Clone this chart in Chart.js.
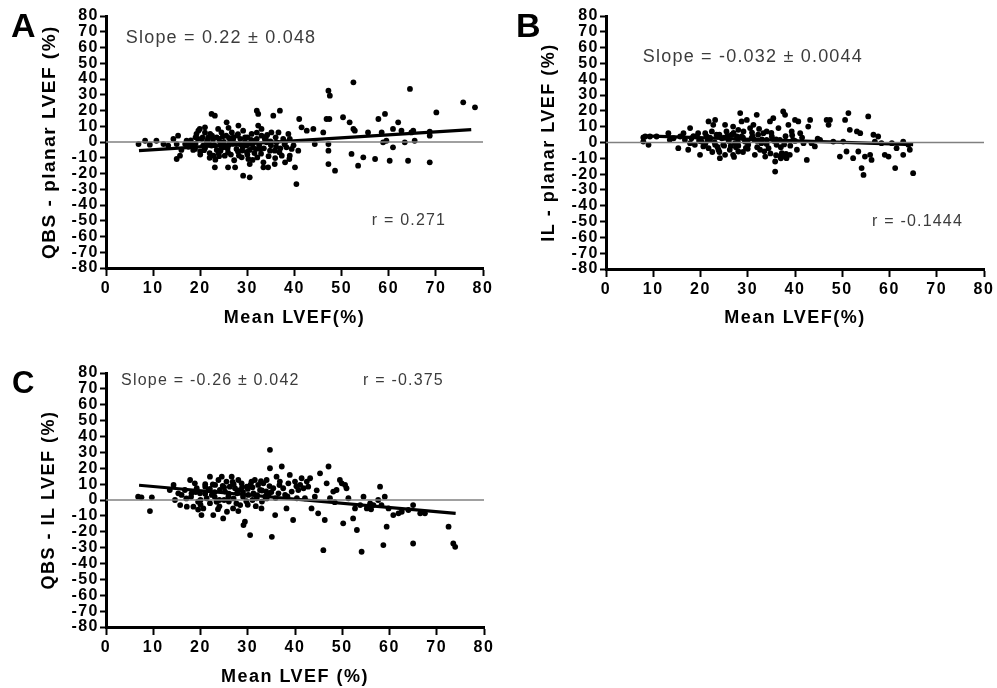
<!DOCTYPE html>
<html>
<head>
<meta charset="utf-8">
<script src="https://cdn.jsdelivr.net/npm/chart.js@4.4.1/dist/chart.umd.min.js"></script>
<style>
  html, body { margin: 0; padding: 0; background: #fff; }
  body { width: 997px; height: 688px; position: relative; overflow: hidden; }
  .panel { position: absolute; }
</style>
</head>
<body>
<div class="panel" style="left:0;top:0;width:500px;height:330px"><canvas id="chartA"></canvas></div>
<div class="panel" style="left:500px;top:0;width:497px;height:330px"><canvas id="chartB"></canvas></div>
<div class="panel" style="left:0;top:340px;width:500px;height:348px"><canvas id="chartC"></canvas></div>
<script>
// axis ticks (same for all panels)
const xTicks = [0, 10, 20, 30, 40, 50, 60, 70, 80];
const yTicks = [-80, -70, -60, -50, -40, -30, -20, -10, 0, 10, 20, 30, 40, 50, 60, 70, 80];

// zero reference line
const zeroX = [0, 80];
const zeroY = [0, 0];

// A: QBS - planar, [mean LVEF, difference]
const pointsA = [
  [6.9,-1.3],[8.3,0.8],[9.3,-1.7],[10.7,0.8],[12.2,-1.3],[13.2,-2.3],[14.3,1.9],[15.0,-1.3],[15.3,4.0],[15.0,-10.8],
  [15.7,-8.7],[16.8,-1.3],[17.1,0.8],[17.8,-0.2],[18.2,-2.3],[18.9,-4.4],[19.2,5.1],[19.6,7.2],[19.9,8.3],[20.3,1.9],
  [20.6,-2.3],[21.0,9.3],[21.4,-0.2],[21.7,3.0],[22.1,5.1],[22.4,-2.3],[22.8,-8.7],[23.1,-16.1],[22.4,17.8],[23.1,16.7],
  [23.5,3.0],[23.8,8.3],[24.2,-0.2],[24.5,6.1],[24.9,-3.4],[25.2,-8.7],[25.6,12.5],[25.9,-6.6],[25.9,-16.1],[26.3,-0.2],
  [26.7,6.1],[27.0,1.9],[27.4,-16.1],[27.7,-4.4],[28.1,10.4],[28.4,-1.3],[28.8,-9.7],[29.1,-21.4],[29.1,7.2],[29.5,3.0],
  [29.8,-2.3],[30.2,-10.8],[30.5,-14.0],[30.5,-22.4],[30.9,5.1],[31.2,-3.4],[31.6,0.8],[32.0,19.9],[32.3,17.8],[32.3,10.4],
  [32.7,-4.4],[33.0,8.3],[33.4,-12.9],[33.4,-16.1],[33.7,1.9],[34.1,-0.2],[34.4,-16.1],[34.8,-5.5],[35.1,6.1],[35.5,16.7],
  [35.8,-14.0],[35.8,-5.5],[36.2,-0.2],[36.6,6.1],[36.9,19.9],[37.3,-8.7],[37.6,1.9],[38.0,-12.9],[38.3,-3.4],[38.7,5.1],
  [39.0,-8.7],[39.4,-4.4],[40.1,-16.1],[40.4,-26.7],[40.8,-5.5],[41.0,14.6],[41.5,9.3],[42.6,7.2],[44.0,8.3],[44.3,-1.3],
  [46.1,6.1],[46.8,14.6],[47.2,32.6],[47.5,29.4],[47.2,-14.0],[47.4,14.6],[47.2,-1.3],[47.2,-5.5],[48.6,-18.2],[50.3,15.7],
  [51.7,12.5],[52.1,-7.6],[52.5,8.3],[52.8,7.2],[52.5,37.9],[53.5,-15.0],[54.6,-9.7],[55.6,6.1],[57.1,-10.8],[57.8,14.6],
  [58.5,6.1],[58.8,-0.2],[59.2,17.8],[59.5,0.8],[60.2,-11.9],[60.9,-3.4],[60.9,8.3],[62.0,12.5],[62.7,7.2],[63.4,-0.2],
  [64.1,-11.9],[64.5,33.7],[64.8,6.1],[65.2,7.2],[65.5,0.8],[68.7,6.5],[68.7,4.0],[68.7,-12.9],[70.1,18.8],[75.8,25.2],
  [78.3,22.0],
  [17.5,-3],[18.5,-5],[19,-1],[19.5,2],[20,-6],[20.5,3],[21,-4],[21.5,1],[22,-7],[22.5,4],
  [23,-2],[23.5,-5],[24,2],[24.5,-3],[25,0],[25.5,4],[26,-2],[26.5,-8],[27,3],[27.5,-1],
  [28,-6],[28.5,2],[29,-3],[29.5,0],[30,3],[30.5,-5],[31,-1],[31.5,-7],[32,2],[32.5,-2],
  [33,4],[33.5,-4],[34,1],[34.5,-9],[35,-2],[36,3],[37,-4],[38,0],[39,2],[19,3],
  [21,6],[22,-10],[24,-9],[26,9],[28,5],[30,-8],[32,6],[20,-8],[16,-5],[18,1],
  [20.8,-5.2],[21.9,-1.4],[22.7,1.6],[23.9,-7.1],[24.8,3.6],[25.8,-4.2],[26.9,-1.1],[27.8,4.1],[28.9,-5.4],[29.9,-6.3],
  [30.8,1.4],[31.8,-4.5],[32.9,-7.4],[33.9,3.2],[34.9,0.4],[35.9,-10.2],[36.8,-6.5],[37.9,-1.5],[38.9,-10.8],[39.8,-2.1],
  [24.3,-5.6],[26.1,2.6],[28.2,-8.6],[30.3,-1.2],[32.1,-9.8],[34.2,4.5],[36.1,-3.1],[23.2,-11.2],[27.2,-11.6],[31.1,-11.4]
];
const fitAX = [7, 77.5];
const fitAY = [-5.5, 7.8];

// B: IL - planar
const pointsB = [
  [7.9,3.2],[7.9,0.6],[9.0,-1.5],[8.3,3.8],[9.3,3.8],[10.7,3.8],[13.2,5.9],[13.5,1.7],[14.3,2.7],[15.3,-3.6],
  [15.7,3.8],[16.4,5.9],[16.7,1.7],[17.4,-4.6],[17.8,9.1],[17.8,-0.4],[18.1,2.7],[18.8,-1.5],[19.2,3.8],[19.5,5.9],
  [19.9,-7.8],[20.2,0.6],[20.6,-2.5],[21.0,5.9],[21.3,3.8],[21.7,13.3],[21.7,-3.6],[22.0,1.7],[22.4,7.0],[22.7,11.2],
  [23.1,14.3],[23.1,-1.5],[23.4,4.9],[23.8,-4.6],[24.1,-9.9],[24.5,2.7],[24.8,-1.5],[25.2,11.2],[25.2,-7.8],[25.5,7.0],
  [25.9,1.7],[26.2,-4.6],[26.6,4.9],[26.9,10.1],[26.9,-7.8],[27.3,-0.4],[27.7,3.8],[28.0,-5.7],[28.4,18.6],[28.7,13.3],
  [28.7,3.8],[29.1,7.0],[29.4,0.6],[29.8,14.3],[30.1,-1.5],[30.5,9.1],[30.8,2.7],[31.2,11.2],[31.5,-7.8],[31.9,17.5],
  [32.2,4.9],[32.6,-4.6],[32.9,-0.4],[33.3,5.9],[33.7,-8.9],[34.0,1.7],[34.4,-3.6],[34.7,13.3],[35.1,3.8],[35.4,15.4],
  [35.8,-12.0],[35.8,-18.4],[36.1,-1.5],[36.5,9.1],[36.8,1.7],[37.2,-6.8],[37.5,19.6],[37.9,17.5],[38.2,-9.9],[38.6,11.2],
  [38.9,-7.8],[39.3,7.0],[39.6,1.7],[40.0,14.3],[40.4,-4.6],[40.7,13.3],[41.1,5.9],[41.8,-0.4],[42.5,-11.0],[42.8,10.1],
  [43.2,14.3],[43.5,-0.4],[44.2,-2.5],[45.3,1.7],[46.7,14.3],[47.1,11.2],[47.4,14.3],[48.1,0.6],[49.5,-8.9],[50.2,0.6],
  [50.6,14.3],[50.9,-5.7],[51.3,18.6],[51.6,8.0],[52.3,-9.9],[53.1,7.0],[53.4,-5.7],[53.8,5.9],[54.1,-16.2],[54.5,-20.5],
  [54.8,-8.9],[55.5,16.5],[55.9,-7.8],[56.2,-11.0],[56.6,4.9],[56.9,0.6],[57.6,3.8],[58.3,-0.4],[59.0,-7.8],[59.8,-8.9],
  [60.5,-0.4],[61.2,-16.2],[61.5,-3.6],[62.9,0.6],[62.9,-7.8],[64.0,-1.5],[64.3,-4.6],[65.0,-19.4],
  [20,2],[21,-1],[22,3],[23,0],[24,5],[25,-2],[26,1],[27,6],[28,-2],[29,3],
  [30,0],[31,4],[32,-3],[33,2],[34,-1],[35,6],[36,2],[37,-3],[38,4],[39,-2],
  [40,1],[22.5,-6],[25,3],[27.5,-3],[30,-4],[32,1],[34,7],[36,-8],[38,-9],[37,-10],
  [28,8],[24,-6],[18.5,4],[29,-6],
  [21.5,1.2],[23.6,-2.8],[25.7,4.1],[27.9,0.3],[29.6,-3.4],[31.4,1.8],[33.5,-5.6],[35.6,0.9],[37.7,-1.2],[39.4,4.6],
  [26.4,-2.2],[30.9,6.3],[34.8,-6.9],[38.1,-7.2],[36.9,-8.6],[41.5,3.1],[44.8,2.4],[19.7,1.1],[32.4,8.6],[27.1,-9.1]
];
const fitBX = [8, 65];
const fitBY = [4.2, -1.3];

// C: QBS - IL
const pointsC = [
  [6.8,2.1],[7.5,1.7],[9.3,-7.0],[9.7,1.7],[13.5,6.3],[14.3,9.5],[14.6,0],[15.3,4.2],[15.7,-3.2],[16.0,3.2],
  [16.7,6.3],[17.1,-4.2],[17.8,12.6],[18.1,4.2],[18.5,-4.2],[18.8,10.5],[19.2,7.4],[19.5,-1.1],[19.9,4.2],[20.2,-9.5],
  [20.6,-5.3],[21.0,8.4],[21.3,1.1],[21.7,6.3],[22.0,14.7],[22.4,3.2],[22.7,-9.5],[23.1,9.5],[23.4,-1.1],[23.8,12.6],
  [24.1,6.3],[24.5,14.7],[24.8,-11.6],[25.2,5.3],[25.5,11.6],[25.9,2.1],[26.2,8.4],[26.6,14.7],[26.9,-5.3],[27.3,7.4],
  [27.7,4.2],[28.0,12.6],[28.4,-3.2],[28.7,10.5],[29.1,-15.8],[29.4,-13.7],[29.8,8.4],[30.1,3.2],[30.5,-22.1],[30.8,11.6],
  [31.2,4.2],[31.5,12.6],[31.9,1.1],[32.2,9.5],[32.6,6.3],[32.9,-5.3],[33.3,10.5],[33.7,2.1],[34.0,12.6],[34.4,3.2],
  [34.7,31.6],[34.7,20.0],[35.1,-23.2],[35.4,7.4],[35.8,-9.5],[36.1,14.7],[36.5,4.2],[36.8,11.6],[37.2,21.1],[37.5,7.4],
  [37.9,3.2],[38.2,-5.3],[38.6,10.5],[38.9,15.8],[39.3,5.3],[39.6,-12.6],[40.0,11.6],[40.4,1.1],[40.7,6.3],[41.1,9.5],
  [41.4,13.7],[41.8,7.4],[42.1,1.1],[42.5,11.6],[42.8,8.4],[43.2,13.7],[43.5,-5.3],[44.2,2.1],[44.9,-8.4],[45.3,16.8],
  [46.0,-31.6],[46.3,-12.6],[46.7,10.5],[47.1,21.1],[47.4,1.1],[48.1,5.3],[48.8,6.3],[49.5,12.6],[49.9,10.5],[50.2,-14.7],
  [50.6,9.5],[50.9,7.4],[51.3,1.1],[52.3,-11.6],[52.7,-5.3],[53.1,-18.9],[53.8,-3.2],[54.1,-32.6],[54.5,2.1],[55.2,-5.3],
  [55.9,-2.1],[56.6,-3.2],[57.6,0],[58.0,8.4],[58.3,-3.2],[58.7,-28.4],[59.0,2.1],[59.4,-16.8],[59.8,-5.3],[60.8,-9.5],
  [61.9,-8.4],[62.6,-7.4],[64.0,-6.3],[65.0,-3.2],[65.0,-27.4],[66.5,-8.4],[67.5,-8.4],[72.5,-16.8],[73.5,-27.4],[73.9,-29.5],
  [18,2],[19,5],[20,0],[21,4],[22,7],[23,2],[24,0],[25,8],[26,4],[27,1],
  [28,6],[29,2],[30,7],[31,0],[32,3],[33,6],[34,1],[35,5],[20,-3],[22,-2],
  [24,-4],[26,-1],[30,-3],[33,-1],[21,10],[23,5],[27,10],[29,5],[31,8],[25,0],
  [17,1],[19.5,-6],[28,-7],
  [22.6,9.8],[24.7,8.9],[26.8,11.4],[28.8,8.1],[30.6,9.7],[32.8,11.8],[34.6,8.8],[36.7,9.4],[38.4,2.2],[40.3,8.7],
  [23.7,-5.8],[25.6,-7.4],[27.6,-2.2],[29.7,-0.8],[31.7,-3.9],[33.9,5.4],[35.9,1.2],[44.6,6.1],[48.4,-1.4],[56.1,-5.9]
];
const fitCX = [7, 74];
const fitCY = [9.3, -8.4];

const fontFam = '"Liberation Sans", Arial, Helvetica, sans-serif';

// draws panel letter, slope and r text
const notesPlugin = {
  id: 'notes',
  beforeDraw(chart) {
    chart.ctx.letterSpacing = '1.5px';
  },
  afterDraw(chart, args, o) {
    const ctx = chart.ctx;
    const xs = chart.scales.x, ys = chart.scales.y;
    ctx.save();
    ctx.fillStyle = '#000';
    ctx.letterSpacing = '0px';
    ctx.textBaseline = 'alphabetic';
    ctx.textAlign = 'left';
    ctx.font = 'bold ' + o.letterSize + 'px ' + fontFam;
    ctx.fillText(o.letter, o.letterPos[0], o.letterPos[1]);

    ctx.fillStyle = '#3c3c3c';
    ctx.letterSpacing = '1.2px';
    ctx.textBaseline = 'middle';
    ctx.font = o.slopeSize + 'px ' + fontFam;
    ctx.fillText(o.slope, xs.getPixelForValue(o.slopeAt[0]), ys.getPixelForValue(o.slopeAt[1]));
    ctx.font = '16px ' + fontFam;
    ctx.fillText(o.r, xs.getPixelForValue(o.rAt[0]), ys.getPixelForValue(o.rAt[1]));
    ctx.restore();
  }
};

function toXY(xArr, yArr) {
  return xArr.map((x, i) => ({ x: x, y: yArr[i] }));
}

function makePanel(id, cfg) {
  const ctx = document.getElementById(id).getContext('2d');
  return new Chart(ctx, {
    type: 'scatter',
    data: {
      datasets: [
        {
          type: 'line',
          data: toXY(zeroX, zeroY),
          borderColor: '#808080',
          borderWidth: 1.5,
          pointRadius: 0,
        },
        {
          type: 'scatter',
          data: cfg.points.map(p => ({ x: p[0], y: p[1] })),
          pointRadius: 2.9,
          pointBackgroundColor: '#000',
          pointBorderWidth: 0,
        },
        {
          type: 'line',
          data: toXY(cfg.fitX, cfg.fitY),
          borderColor: '#000',
          borderWidth: 3.2,
          pointRadius: 0,
        },
      ],
    },
    options: {
      responsive: true,
      maintainAspectRatio: false,
      animation: false,
      devicePixelRatio: 1,
      layout: { padding: { left: 0, top: cfg.padTop, right: cfg.padRight, bottom: 0 } },
      plugins: {
        legend: { display: false },
        tooltip: { enabled: false },
        notes: cfg.notes,
      },
      scales: {
        x: {
          type: 'linear',
          min: xTicks[0],
          max: xTicks[xTicks.length - 1],
          border: { color: '#000', width: 3 },
          grid: { drawOnChartArea: false, tickLength: 8, tickWidth: 2, tickColor: '#000' },
          afterBuildTicks: s => { s.ticks = xTicks.map(v => ({ value: v })); },
          ticks: {
            autoSkip: false, maxRotation: 0, color: '#000', padding: 3,
            font: { family: fontFam, size: 16, weight: 'bold' },
          },
          title: {
            display: true, text: cfg.xTitle, color: '#000',
            font: { family: fontFam, size: 18, weight: 'bold' },
            padding: { top: 0, bottom: cfg.xTitlePad },
          },
          afterFit: s => { s.height = cfg.xHeight; },
        },
        y: {
          type: 'linear',
          min: yTicks[0],
          max: yTicks[yTicks.length - 1],
          border: { color: '#000', width: 3 },
          grid: { drawOnChartArea: false, tickLength: 6, tickWidth: 2, tickColor: '#000' },
          afterBuildTicks: s => { s.ticks = yTicks.map(v => ({ value: v })); },
          ticks: {
            autoSkip: false, color: '#000', padding: 1,
            font: { family: fontFam, size: 16, weight: 'bold' },
          },
          title: {
            display: true, text: cfg.yTitle, color: '#000',
            font: { family: fontFam, size: cfg.yTitleSize, weight: 'bold' },
            padding: { top: 38, bottom: 0 },
          },
          afterFit: s => { s.width = 106; },
        },
      },
    },
    plugins: [notesPlugin],
  });
}

makePanel('chartA', {
  points: pointsA, fitX: fitAX, fitY: fitAY,
  padTop: 16, padRight: 17, xHeight: 62, xTitlePad: 1,
  xTitle: 'Mean LVEF(%)', yTitle: 'QBS - planar LVEF (%)', yTitleSize: 19,
  notes: {
    letter: 'A', letterSize: 34, letterPos: [11, 37],
    slope: 'Slope = 0.22 \u00b1 0.048', slopeSize: 18, slopeAt: [4.2, 66],
    r: 'r = 0.271', rAt: [56.4, -50],
  },
});

makePanel('chartB', {
  points: pointsB, fitX: fitBX, fitY: fitBY,
  padTop: 16, padRight: 13, xHeight: 61, xTitlePad: 1,
  xTitle: 'Mean LVEF(%)', yTitle: 'IL - planar LVEF (%)', yTitleSize: 18,
  notes: {
    letter: 'B', letterSize: 34, letterPos: [16, 37],
    slope: 'Slope = -0.032 \u00b1 0.0044', slopeSize: 18, slopeAt: [7.8, 54],
    r: 'r = -0.1444', rAt: [56.3, -50],
  },
});

makePanel('chartC', {
  points: pointsC, fitX: fitCX, fitY: fitCY,
  padTop: 33, padRight: 16, xHeight: 61, xTitlePad: 0,
  xTitle: 'Mean LVEF (%)', yTitle: 'QBS - IL LVEF (%)', yTitleSize: 18,
  notes: {
    letter: 'C', letterSize: 31, letterPos: [12, 53],
    slope: 'Slope = -0.26 \u00b1 0.042', slopeSize: 16, slopeAt: [3.2, 75],
    r: 'r = -0.375', rAt: [54.4, 75],
  },
});
</script>
</body>
</html>
